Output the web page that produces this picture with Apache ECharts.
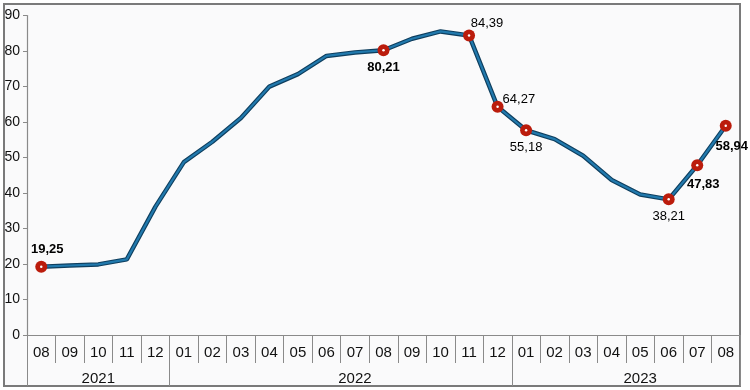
<!DOCTYPE html>
<html>
<head>
<meta charset="utf-8">
<script src="https://cdn.jsdelivr.net/npm/echarts@6/dist/echarts.min.js"></script>
<style>
html,body{margin:0;padding:0;background:#ffffff;}
#chart{width:750px;height:390px;}
</style>
</head>
<body>
<div id="chart"></div>
<script>
// ---- data ----
const months = ['08','09','10','11','12','01','02','03','04','05','06','07','08','09','10','11','12','01','02','03','04','05','06','07','08'];
const yearNames = ['2021','2022','2023'];
const yearStartIndex = [0, 5, 17];
const values = [19.25,19.58,19.89,21.31,36.08,48.69,54.44,61.14,69.97,73.50,78.62,79.60,80.21,83.45,85.51,84.39,64.27,57.68,55.18,50.51,43.68,39.59,38.21,47.83,58.94];
const markedIndex = [0,12,15,16,17,22,23,24];
const markedLabels = ['19,25','80,21','84,39','64,27','55,18','38,21','47,83','58,94'];
const yTicks = [0,10,20,30,40,50,60,70,80,90];

// ---- styles for labels (by index) ----
const FONT = "'Liberation Sans Narrow','Arial Narrow','Liberation Sans',Arial,sans-serif";
const labelStyle = {
  0:  {position:'top', distance:5, offset:[6,0], fontWeight:'bold'},
  12: {position:'bottom', distance:5, offset:[0,0], fontWeight:'bold'},
  15: {position:'top', distance:0, offset:[18,1], fontWeight:'normal'},
  16: {position:'right', distance:2, offset:[-3,-7], fontWeight:'normal'},
  17: {position:'bottom', distance:5, offset:[0,0], fontWeight:'normal'},
  22: {position:'bottom', distance:5, offset:[0,0], fontWeight:'normal'},
  23: {position:'bottom', distance:5, offset:[6,2], fontWeight:'bold'},
  24: {position:'bottom', distance:5, offset:[6,3], fontWeight:'bold'}
};

const markerData = values.map((v, i) => {
  const k = markedIndex.indexOf(i);
  if (k < 0) return '-';
  const s = labelStyle[i];
  return {
    value: v,
    label: {
      show: true, formatter: markedLabels[k],
      position: s.position, distance: s.distance, offset: s.offset,
      fontWeight: s.fontWeight, fontSize: 13, fontFamily: FONT, color: '#000'
    }
  };
});

// year label placement: center of each year's span
const yearLabelAt = {};
yearStartIndex.forEach((st, k) => {
  const end = (k + 1 < yearStartIndex.length ? yearStartIndex[k+1] : months.length) - 1;
  const mid = (st + end) / 2;
  yearLabelAt[Math.floor(mid)] = {name: yearNames[k], half: mid % 1 !== 0};
});

const chart = echarts.init(document.getElementById('chart'), null, {renderer:'canvas'});
const option = {
  backgroundColor: '#ffffff',
  animation: false,
  graphic: [{
    type: 'rect', z: -10, silent: true,
    shape: {x: 4, y: 4, width: 736, height: 382},
    style: {fill: '#fafafb', stroke: '#7a7a7a', lineWidth: 2}
  }],
  grid: {left: 27, right: 10, top: 15.5, bottom: 55, containLabel: false},
  xAxis: [{
    type: 'category', data: months, boundaryGap: true, position: 'bottom',
    axisLine: {show: true, lineStyle: {color: '#8a8a8a', width: 1.2}},
    axisTick: {show: true, interval: 0, length: 28, lineStyle: {color: '#8a8a8a'}},
    axisLabel: {interval: 0, margin: 10, fontSize: 15, fontFamily: FONT, color: '#111'},
    splitLine: {show: false}
  }, {
    type: 'category', data: months, boundaryGap: true, position: 'bottom',
    axisLine: {show: false},
    axisTick: {show: true, length: 51, interval: (i) => yearStartIndex.indexOf(i) >= 0, lineStyle: {color: '#8a8a8a'}},
    axisLabel: {
      interval: (i) => yearLabelAt[i] !== undefined, margin: 36,
      fontSize: 15, fontFamily: FONT, color: '#111',
      formatter: (val, i) => {
        const y = yearLabelAt[i];
        return y.half ? '{h|' + y.name + '}' : '{n|' + y.name + '}';
      },
      rich: {
        h: {padding: [0, 0, 0, 57], fontSize: 15, fontFamily: FONT, color: '#111'},
        n: {fontSize: 15, fontFamily: FONT, color: '#111'}
      }
    },
    splitLine: {show: false}
  }],
  yAxis: {
    type: 'value', min: yTicks[0], max: yTicks[yTicks.length-1], interval: 10,
    axisLine: {show: true, lineStyle: {color: '#8a8a8a', width: 1.2}},
    axisTick: {show: true, length: 4, lineStyle: {color: '#8a8a8a'}},
    axisLabel: {margin: 7, fontSize: 14, fontFamily: FONT, color: '#111'},
    splitLine: {show: false}
  },
  series: [{
    type: 'line', data: values, symbol: 'none', z: 2,
    lineStyle: {color: '#0e3e5e', width: 4.5}
  }, {
    type: 'line', data: values, symbol: 'none', z: 3,
    lineStyle: {color: '#2179ad', width: 2.2}
  }, {
    type: 'scatter', data: markerData, symbol: 'circle', symbolSize: 12, z: 5,
    itemStyle: {color: '#bb1c0c', opacity: 1}
  }, {
    type: 'scatter', data: markerData.map(d => d === '-' ? '-' : d.value), symbol: 'circle', symbolSize: 2.5, z: 6,
    itemStyle: {color: '#ffffff', opacity: 1}, label: {show: false}
  }]
};
chart.setOption(option);
</script>
</body>
</html>
